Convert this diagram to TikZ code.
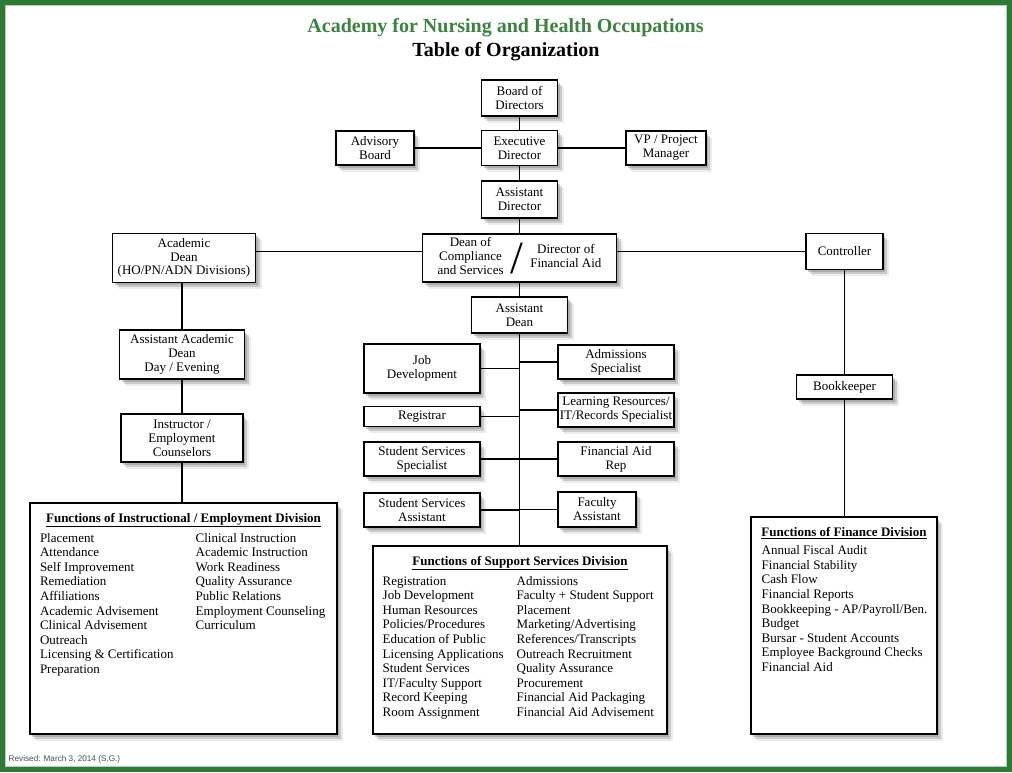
\documentclass[tikz,border=0pt]{standalone}
\usepackage{fontspec}
\setmainfont{Liberation Serif}
\newfontfamily\revfont{Liberation Sans}
\usetikzlibrary{shadows}
\definecolor{framegreen}{RGB}{46,122,52}
\definecolor{titlegreen}{RGB}{60,130,64}

\begin{document}
\begin{tikzpicture}[x=1pt,y=-1pt,
   softshadow/.style={
      drop shadow={shadow xshift=2pt,shadow yshift=-2.5pt,opacity=0.4},
      drop shadow={shadow xshift=4pt,shadow yshift=-4.5pt,opacity=0.3},
      drop shadow={shadow xshift=6pt,shadow yshift=-6.5pt,opacity=0.15}},
   orgbox/.style={draw, fill=white, line width=1.8pt, align=center, inner sep=1pt,
      font=\fontsize{13}{14}\selectfont, softshadow},
   funcbox/.style={draw, fill=white, line width=1.8pt, inner xsep=4pt, inner ysep=10pt,
      font=\fontsize{13}{14.6}\selectfont, softshadow},
   link/.style={line width=1.7pt}]

   \useasboundingbox (0,0) rectangle (1012,772);
   \fill [white] (0,0) rectangle (1012,772);
   \draw [framegreen, line width=5pt] (2.5,2.5) rectangle (1009.5,769.5);
   \draw [framegreen!35, line width=0.8pt] (5.6,5.6) rectangle (1006.4,766.4);

   \node (Title) at (505.5,28) [font=\fontsize{20}{22}\selectfont\bfseries, text=titlegreen] {Academy for Nursing and Health Occupations};
   \node (Subtitle) at (506,52) [font=\fontsize{20}{22}\selectfont\bfseries] {Table of Organization};

   \node (Board) at (519.5,98) [orgbox, minimum width=76pt, minimum height=36pt] {Board of\\Directors};
   \node (Exec) at (519.5,148) [orgbox, minimum width=76pt, minimum height=35pt] {Executive\\Director};
   \node (Advisory) at (375,148) [orgbox, minimum width=78pt, minimum height=34pt] {Advisory\\Board};
   \node (VP) at (666,148) [orgbox, minimum width=80pt, minimum height=34pt] {VP / Project\\Manager};
   \node (AsstDir) at (519.5,199.5) [orgbox, minimum width=76pt, minimum height=37pt] {Assistant\\Director};

   \node (AcadDean) at (184,258) [orgbox, minimum width=143pt, minimum height=49pt, font=\fontsize{13}{13.5}\selectfont] {Academic\\Dean\\(HO/PN/ADN Divisions)};
   \node (DeanDir) at (519.5,258) [orgbox, minimum width=194pt, minimum height=48pt]
      {\begin{tabular}{@{}c@{\hspace{7pt}}c@{\hspace{7pt}}c@{}}
         \begin{tabular}{@{}c@{}}Dean of\\Compliance\\and Services\end{tabular} &
         \raisebox{-12.5pt}{\fontsize{46}{46}\selectfont /} &
         \begin{tabular}{@{}c@{}}Director of\\Financial Aid\end{tabular}
       \end{tabular}};
   \node (Controller) at (844.5,251.5) [orgbox, minimum width=77pt, minimum height=36pt] {Controller};
   \node (AsstDean) at (519.5,315) [orgbox, minimum width=96pt, minimum height=36pt] {Assistant\\Dean};

   \node (AsstAcad) at (182,354.5) [orgbox, minimum width=125pt, minimum height=49pt] {Assistant Academic\\Dean\\Day / Evening};
   \node (Instructor) at (182,438) [orgbox, minimum width=122pt, minimum height=48pt] {Instructor /\\Employment\\Counselors};

   \node (JobDev) at (422,368.5) [orgbox, minimum width=116pt, minimum height=49pt] {Job\\Development};
   \node (Registrar) at (422,416.5) [orgbox, minimum width=116pt, minimum height=20pt] {Registrar};
   \node (SSSpec) at (422,459) [orgbox, minimum width=116pt, minimum height=34pt] {Student Services\\Specialist};
   \node (SSAsst) at (422,510) [orgbox, minimum width=116pt, minimum height=34pt] {Student Services\\Assistant};

   \node (Admissions) at (616,362) [orgbox, minimum width=116pt, minimum height=34pt] {Admissions\\Specialist};
   \node (Learning) at (616,410) [orgbox, minimum width=116pt, minimum height=34pt] {Learning Resources/\\IT/Records Specialist};
   \node (FinAidRep) at (616,459) [orgbox, minimum width=116pt, minimum height=34pt] {Financial Aid\\Rep};
   \node (Faculty) at (597,509.5) [orgbox, minimum width=78pt, minimum height=35pt] {Faculty\\Assistant};

   \node (Bookkeeper) at (844.5,387) [orgbox, minimum width=96pt, minimum height=24pt] {Bookkeeper};

   \node (InstrFunc) at (183.5,618.5) [funcbox] {\begin{minipage}[t][211pt][t]{299pt}
      \centering\textbf{\underline{Functions of Instructional / Employment Division}}\par
      \vspace{4pt}\raggedright
      \begin{tabular}[t]{@{\hspace{6pt}}p{155.7pt}@{}l@{}}
      Placement & Clinical Instruction\\
      Attendance & Academic Instruction\\
      Self Improvement & Work Readiness\\
      Remediation & Quality Assurance\\
      Affiliations & Public Relations\\
      Academic Advisement & Employment Counseling\\
      Clinical Advisement & Curriculum\\
      Outreach & \\
      Licensing \& Certification & \\
      Preparation & \\
      \end{tabular}
   \end{minipage}};

   \node (SupportFunc) at (520,640) [funcbox] {\begin{minipage}[t][168pt][t]{286pt}
      \centering\textbf{\underline{Functions of Support Services Division}}\par
      \vspace{4pt}\raggedright
      \begin{tabular}[t]{@{\hspace{5.7pt}}p{134pt}@{}l@{}}
      Registration & Admissions\\
      Job Development & Faculty + Student Support\\
      Human Resources & Placement\\
      Policies/Procedures & Marketing/Advertising\\
      Education of Public & References/Transcripts\\
      Licensing Applications & Outreach Recruitment\\
      Student Services & Quality Assurance\\
      IT/Faculty Support & Procurement\\
      Record Keeping & Financial Aid Packaging\\
      Room Assignment & Financial Aid Advisement\\
      \end{tabular}
   \end{minipage}};

   \node (FinanceFunc) at (844,625.5) [funcbox] {\begin{minipage}[t][197pt][t]{178pt}
      \centering\textbf{\underline{Functions of Finance Division}}\par
      \vspace{4pt}\raggedright
      \begin{tabular}[t]{@{\hspace{6.7pt}}l@{}}
      Annual Fiscal Audit\\
      Financial Stability\\
      Cash Flow\\
      Financial Reports\\
      Bookkeeping - AP/Payroll/Ben.\\
      Budget\\
      Bursar - Student Accounts\\
      Employee Background Checks\\
      Financial Aid\\
      \end{tabular}
   \end{minipage}};

   \node (Revised) at (8.5,759) [anchor=west, inner sep=0pt, font=\revfont\fontsize{8.2}{9}\selectfont, text=black!70] {Revised: March 3, 2014 (S.G.)};

   \draw [link] (Board) -- (Exec);
   \draw [link] (Advisory) -- (Exec);
   \draw [link] (Exec) -- (VP);
   \draw [link] (Exec) -- (AsstDir);
   \draw [link] (AsstDir) -- (DeanDir);
   \draw [link] (AcadDean.east |- Controller.west) -- (DeanDir.west |- Controller.west);
   \draw [link] (DeanDir.east |- Controller.west) -- (Controller.west);
   \draw [link] (DeanDir) -- (AsstDean);
   \draw [link] (AsstDean.south) -- (AsstDean.south |- SupportFunc.north);

   \draw [link] (JobDev.east) -- (JobDev.east -| AsstDean.south);
   \draw [link] (Registrar.east) -- (Registrar.east -| AsstDean.south);
   \draw [link] (SSSpec.east) -- (SSSpec.east -| AsstDean.south);
   \draw [link] (SSAsst.east) -- (SSAsst.east -| AsstDean.south);
   \draw [link] (Admissions.west) -- (Admissions.west -| AsstDean.south);
   \draw [link] (Learning.west) -- (Learning.west -| AsstDean.south);
   \draw [link] (FinAidRep.west) -- (FinAidRep.west -| AsstDean.south);
   \draw [link] (Faculty.west) -- (Faculty.west -| AsstDean.south);

   \draw [link] (AsstAcad.north |- AcadDean.south) -- (AsstAcad.north);
   \draw [link] (AsstAcad) -- (Instructor);
   \draw [link] (Instructor.south) -- (Instructor.south |- InstrFunc.north);

   \draw [link] (Controller) -- (Bookkeeper);
   \draw [link] (Bookkeeper.south) -- (Bookkeeper.south |- FinanceFunc.north);

\end{tikzpicture}
\end{document}
